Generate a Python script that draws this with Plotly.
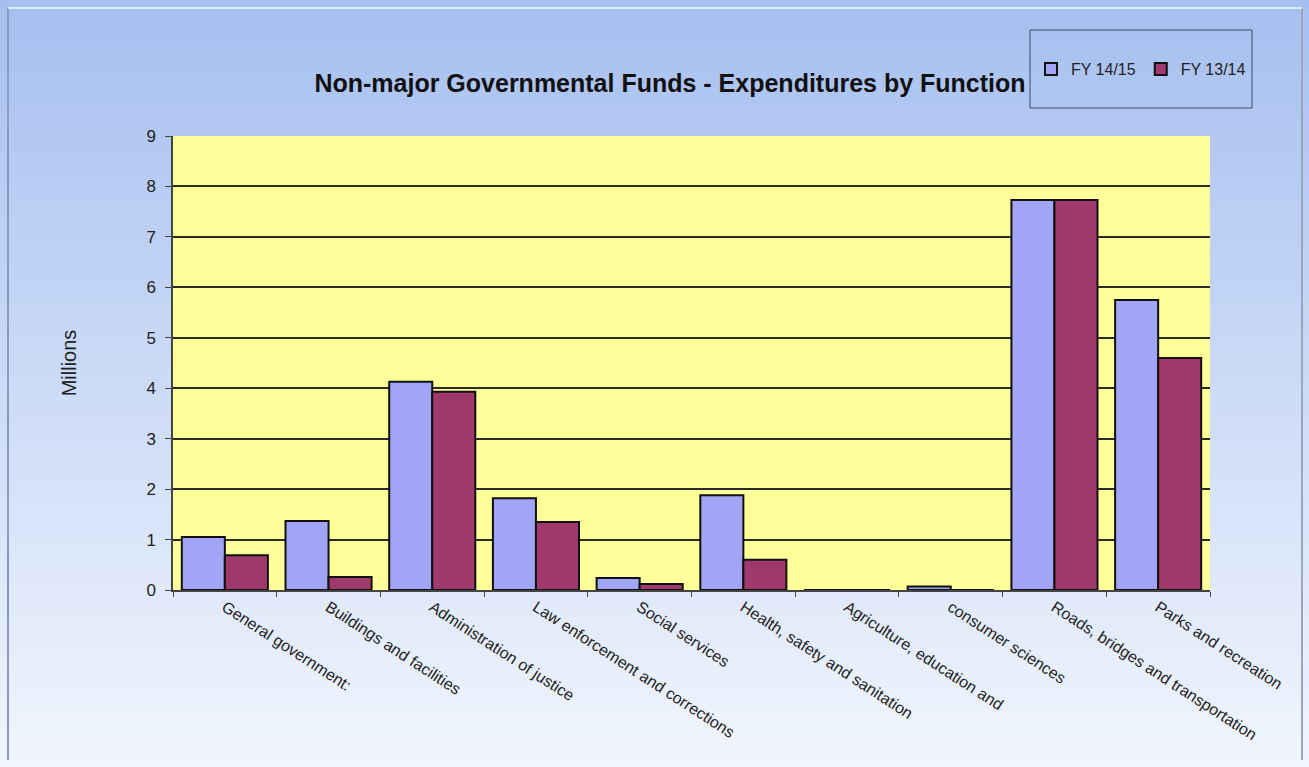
import plotly.graph_objects as go

categories = ["General government:", "Buildings and facilities", "Administration of justice",
              "Law enforcement and corrections", "Social services", "Health, safety and sanitation",
              "Agriculture, education and", "consumer sciences", "Roads, bridges and transportation",
              "Parks and recreation"]
fy1415 = [1.05, 1.37, 4.13, 1.82, 0.24, 1.88, 0.0, 0.07, 7.73, 5.75]
fy1314 = [0.69, 0.26, 3.93, 1.35, 0.12, 0.60, 0.0, 0.0, 7.73, 4.60]
series_names = ["FY 14/15", "FY 13/14"]
y_ticks = [0, 1, 2, 3, 4, 5, 6, 7, 8, 9]

fig = go.Figure()
fig.add_trace(go.Bar(x=categories, y=fy1415, name=series_names[0],
                     marker=dict(color="#a2a5f6", line=dict(color="#111111", width=2))))
fig.add_trace(go.Bar(x=categories, y=fy1314, name=series_names[1],
                     marker=dict(color="#a03a6c", line=dict(color="#111111", width=2))))

PH = 454.0
PW = 1037.0
# gradient background bands (paper coords span the full page)
shapes = []
n = 70
top = (166, 191, 240)
bot = (241, 246, 253)
y_top = 1 + 140 / PH
y_bot = -180 / PH
step = (y_top - y_bot) / n
for i in range(n):
    t = i / (n - 1)
    c = tuple(int(round(top[k] + (bot[k] - top[k]) * t)) for k in range(3))
    shapes.append(dict(type="rect", xref="paper", yref="paper",
                       x0=-0.3, x1=1.2, y0=y_top - (i + 1) * step - 0.002, y1=y_top - i * step,
                       fillcolor="rgb(%d,%d,%d)" % c, line=dict(width=0), layer="below"))
# plot area fill
shapes.append(dict(type="rect", xref="paper", yref="paper", x0=0, x1=1, y0=0, y1=1,
                   fillcolor="#ffff99", line=dict(width=0), layer="below"))
# legend box
shapes.append(dict(type="rect", xref="paper", yref="paper",
                   x0=(1030 - 173) / PW, x1=(1252 - 173) / PW,
                   y0=(590 - 108) / PH, y1=(590 - 30) / PH,
                   line=dict(color="#3a4a6a", width=1), fillcolor="rgba(0,0,0,0)"))
# outer frame edges
shapes.append(dict(type="line", xref="paper", yref="paper",
                   x0=(1302 - 173) / PW, x1=(1302 - 173) / PW,
                   y0=(590 - 760) / PH, y1=(590 - 8) / PH,
                   line=dict(color="#9aa6bc", width=2)))
shapes.append(dict(type="line", xref="paper", yref="paper",
                   x0=(8 - 173) / PW, x1=(8 - 173) / PW,
                   y0=(590 - 760) / PH, y1=(590 - 8) / PH,
                   line=dict(color="#8b9bbd", width=2)))
shapes.append(dict(type="line", xref="paper", yref="paper",
                   x0=(8 - 173) / PW, x1=(1302 - 173) / PW,
                   y0=(590 - 8) / PH, y1=(590 - 8) / PH,
                   line=dict(color="#dceaff", width=2)))

fig.update_layout(
    width=1309, height=767,
    margin=dict(l=173, r=99, t=136, b=177),
    paper_bgcolor="#f1f6fd",
    plot_bgcolor="#ffff99",
    font=dict(family="Liberation Sans, Arial, sans-serif", color="#222222"),
    title=dict(text="<b>Non-major Governmental Funds - Expenditures by Function</b>",
               x=670 / 1309, xanchor="center", y=1 - 83 / 767, yanchor="middle",
               font=dict(size=25, color="#111111")),
    barmode="group", bargap=0.17, bargroupgap=0.0,
    showlegend=True,
    legend=dict(orientation="h", x=(1141 - 173) / PW, xanchor="center",
                y=(590 - 69) / PH, yanchor="middle",
                bgcolor="rgba(0,0,0,0)", font=dict(size=16, color="#222222"),
                itemwidth=30, traceorder="normal"),
    shapes=shapes,
)
fig.update_xaxes(tickangle=33, tickson="boundaries", ticks="outside", ticklen=5,
                 tickcolor="#444444", showline=True, linecolor="#444444", linewidth=1.5,
                 tickfont=dict(size=16, color="#222222"), showgrid=False)
fig.update_yaxes(range=[0, 9], tickvals=y_ticks, ticks="outside", ticklen=6,
                 tickcolor="#444444", showline=True, linecolor="#444444", linewidth=1.5,
                 gridcolor="#2a2a2a", gridwidth=1.5, zeroline=False, ticklabelstandoff=6,
                 tickfont=dict(size=17, color="#222222"),
                 title=dict(text="Millions", font=dict(size=20, color="#222222"), standoff=64))

fig.write_html("out.html")
